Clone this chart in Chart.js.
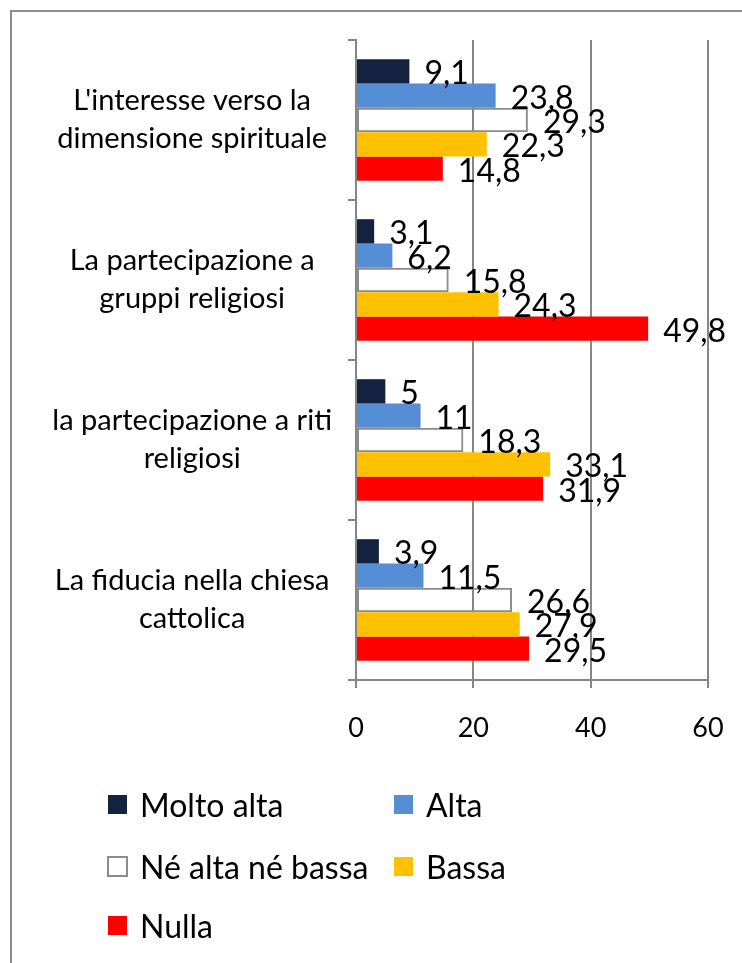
<!DOCTYPE html>
<html><head><meta charset="utf-8">
<script src="https://cdn.jsdelivr.net/npm/chart.js@4.4.1/dist/chart.umd.min.js"></script>
<style>
html,body{margin:0;padding:0;width:742px;height:963px;overflow:hidden;background:#fff;}
#frame{position:absolute;left:10px;top:10px;width:800px;height:1000px;border-left:2px solid #8c8c8c;border-top:2px solid #8c8c8c;}
#wrap{position:absolute;left:0;top:0;width:742px;height:963px;}
.lg{position:absolute;font-family:Lato,sans-serif;font-size:32px;line-height:32px;color:#000;white-space:nowrap;}
.bx{position:absolute;width:19px;height:19px;box-sizing:border-box;}
</style></head>
<body>
<div id="frame"></div>
<div id="wrap"><canvas id="c" width="742" height="963"></canvas></div>
<div id="legend"></div>
<script>
const categories = [
  ["L'interesse verso la", "dimensione spirituale"],
  ["La partecipazione a", "gruppi religiosi"],
  ["la partecipazione a riti", "religiosi"],
  ["La fiducia nella chiesa", "cattolica"]
];
const seriesNames = ["Molto alta", "Alta", "Né alta né bassa", "Bassa", "Nulla"];
const moltoAlta = [9.1, 3.1, 5, 3.9];
const alta = [23.8, 6.2, 11, 11.5];
const neAltaNeBassa = [29.3, 15.8, 18.3, 26.6];
const bassa = [22.3, 24.3, 33.1, 27.9];
const nulla = [14.8, 49.8, 31.9, 29.5];
const xTicks = [0, 20, 40, 60];

const fills = ['#13233f', '#558ed5', 'rgba(255,255,255,0)', '#ffc000', '#ff0000'];
const borders = ['#13233f', '#558ed5', '#8c8c8c', '#ffc000', '#ff0000'];
const borderW = [0, 0, 2, 0, 0];
const seriesData = [moltoAlta, alta, neAltaNeBassa, bassa, nulla];
const gridColor = '#868686';

const valueLabels = {
  id: 'valueLabels',
  afterDatasetsDraw(chart) {
    const ctx = chart.ctx;
    ctx.save();
    ctx.font = '32px Lato';
    ctx.fillStyle = '#000';
    ctx.textAlign = 'left';
    ctx.textBaseline = 'alphabetic';
    chart.data.datasets.forEach((ds, i) => {
      chart.getDatasetMeta(i).data.forEach((el, j) => {
        ctx.fillText(String(ds.data[j]).replace('.', ','), el.x + 15, el.y + 13);
      });
    });
    ctx.restore();
  }
};

new Chart(document.getElementById('c'), {
  type: 'bar',
  data: {
    labels: categories,
    datasets: seriesNames.map((n, i) => ({
      label: n,
      data: seriesData[i],
      backgroundColor: fills[i],
      borderColor: borders[i],
      borderWidth: borderW[i],
      borderSkipped: false,
      categoryPercentage: 0.76,
      barPercentage: 1.0
    }))
  },
  options: {
    indexAxis: 'y',
    responsive: false,
    animation: false,
    devicePixelRatio: 1,
    layout: { padding: { top: 40, right: 34, left: 0, bottom: 0 } },
    plugins: { legend: { display: false }, tooltip: { enabled: false } },
    scales: {
      x: {
        min: xTicks[0], max: xTicks[xTicks.length - 1],
        ticks: { stepSize: xTicks[1] - xTicks[0], color: '#000', font: { family: 'Lato', size: 27 }, padding: 24 },
        grid: { color: gridColor, lineWidth: 2, tickLength: 8, drawOnChartArea: true },
        border: { display: true, color: gridColor, width: 2 },
        afterFit(scale) { scale.height = 283; scale.paddingLeft = 0; scale.paddingRight = 0; }
      },
      y: {
        ticks: { color: '#000', font: { family: 'Lato', size: 29, lineHeight: 1.32 }, padding: 16, crossAlign: 'center' },
        grid: { color: gridColor, lineWidth: 2, tickLength: 8, drawOnChartArea: false, offset: true },
        border: { display: true, color: gridColor, width: 2 },
        afterFit(scale) { scale.width = 356; scale.paddingTop = 0; scale.paddingBottom = 0; }
      }
    }
  },
  plugins: [valueLabels]
});

// legend (two columns)
const lg = document.getElementById('legend');
const pos = [[108, 817], [394, 817], [108, 879], [394, 879], [108, 938]];
seriesNames.forEach((n, i) => {
  const [x, base] = pos[i];
  const b = document.createElement('div');
  b.className = 'bx';
  b.style.left = x + 'px';
  b.style.top = (base - 22) + 'px';
  b.style.background = i === 2 ? '#fff' : fills[i];
  if (i === 2) { b.style.border = '2px solid #8c8c8c'; b.style.width = '21px'; b.style.height = '21px'; b.style.left = (x - 1) + 'px'; b.style.top = (base - 23) + 'px'; }
  lg.appendChild(b);
  const t = document.createElement('div');
  t.className = 'lg';
  t.textContent = n;
  t.style.left = (x + 32) + 'px';
  t.style.top = (base - 28.4) + 'px';
  lg.appendChild(t);
});
</script>
</body></html>
